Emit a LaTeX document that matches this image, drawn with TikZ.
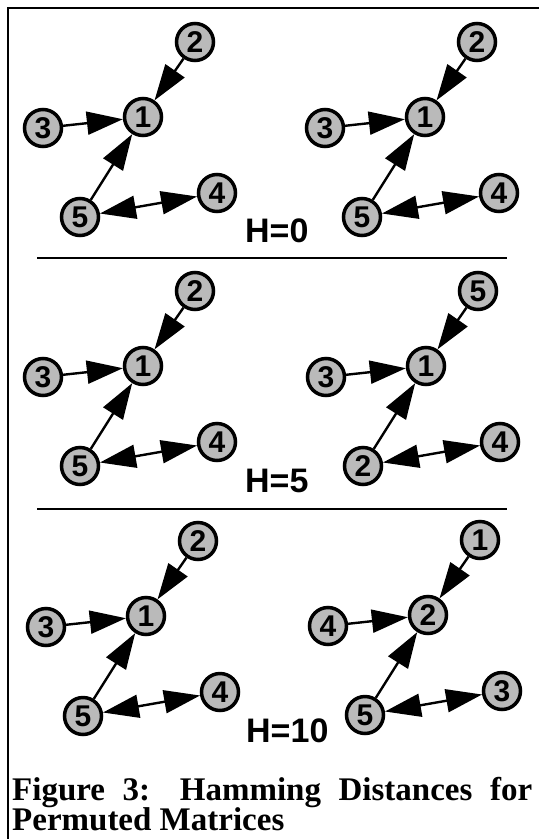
\documentclass[tikz,border=0pt]{standalone}
\usepackage{fontspec}
\newfontfamily\capfont{Liberation Serif}
\newfontfamily\labfont{Liberation Sans}
\usetikzlibrary{arrows.meta}
\tikzset{
  vert/.style={circle, draw=black, line width=3.5pt, fill=black!27,
    minimum size=37pt, inner sep=0pt,
    font=\labfont\bfseries\fontsize{30}{30}\selectfont},
  head/.tip={Triangle[length=36pt,width=23pt]},
  link/.style={line width=2.4pt, -head},
  twoway/.style={line width=2.4pt, head-head},
  rule/.style={line width=2.4pt},
  hlabel/.style={anchor=west, inner sep=0pt,
    font=\labfont\bfseries\fontsize{34}{34}\selectfont},
  captext/.style={anchor=base west, inner sep=0pt,
    font=\capfont\bfseries\fontsize{33}{33}\selectfont},
  % one five-node graph: top, centre, left, bottom, right
  pics/net/.style n args={5}{code={
    \node[vert] (-t) at (195,42)  {#1};
    \node[vert] (-c) at (143,117) {#2};
    \node[vert] (-l) at (43,128)  {#3};
    \node[vert] (-b) at (80,217)  {#4};
    \node[vert] (-r) at (217,193) {#5};
    \draw[link] (-t) -- (-c);
    \draw[link] (-l) -- (-c);
    \draw[link] (-b) -- (-c);
    \draw[twoway] (-b) -- (-r);
  }}
}
\begin{document}
\begin{tikzpicture}[x=1pt,y=-1pt]
  \useasboundingbox (0,0) rectangle (539,839);
  \fill[white] (0,0) rectangle (539,839);

  % frame and separators
  \draw[rule] (8,839) -- (8,8) -- (539,8);
  \draw[rule] (37,258) -- (507,258);
  \draw[rule] (37,509) -- (507,509);

  % graphs
  \pic (ga) at (0,0)     {net={2}{1}{3}{5}{4}};
  \pic (gb) at (282,0)   {net={2}{1}{3}{5}{4}};
  \pic (gc) at (0,249)   {net={2}{1}{3}{5}{4}};
  \pic (gd) at (283,249) {net={5}{1}{3}{2}{4}};
  \pic (ge) at (3,499)   {net={2}{1}{3}{5}{4}};
  \pic (gf) at (285,498) {net={1}{2}{4}{5}{3}};

  % distances
  \node[hlabel] (h0)  at (245,231) {H=0};
  \node[hlabel] (h5)  at (245,481) {H=5};
  \node[hlabel] (h10) at (246,731) {H=10};

  % caption
  \node[captext] (cap1) at (12,800) {\makebox[520pt][s]{Figure 3: Hamming Distances for}};
  \node[captext] (cap2) at (12,830) {Permuted Matrices};
\end{tikzpicture}
\end{document}
